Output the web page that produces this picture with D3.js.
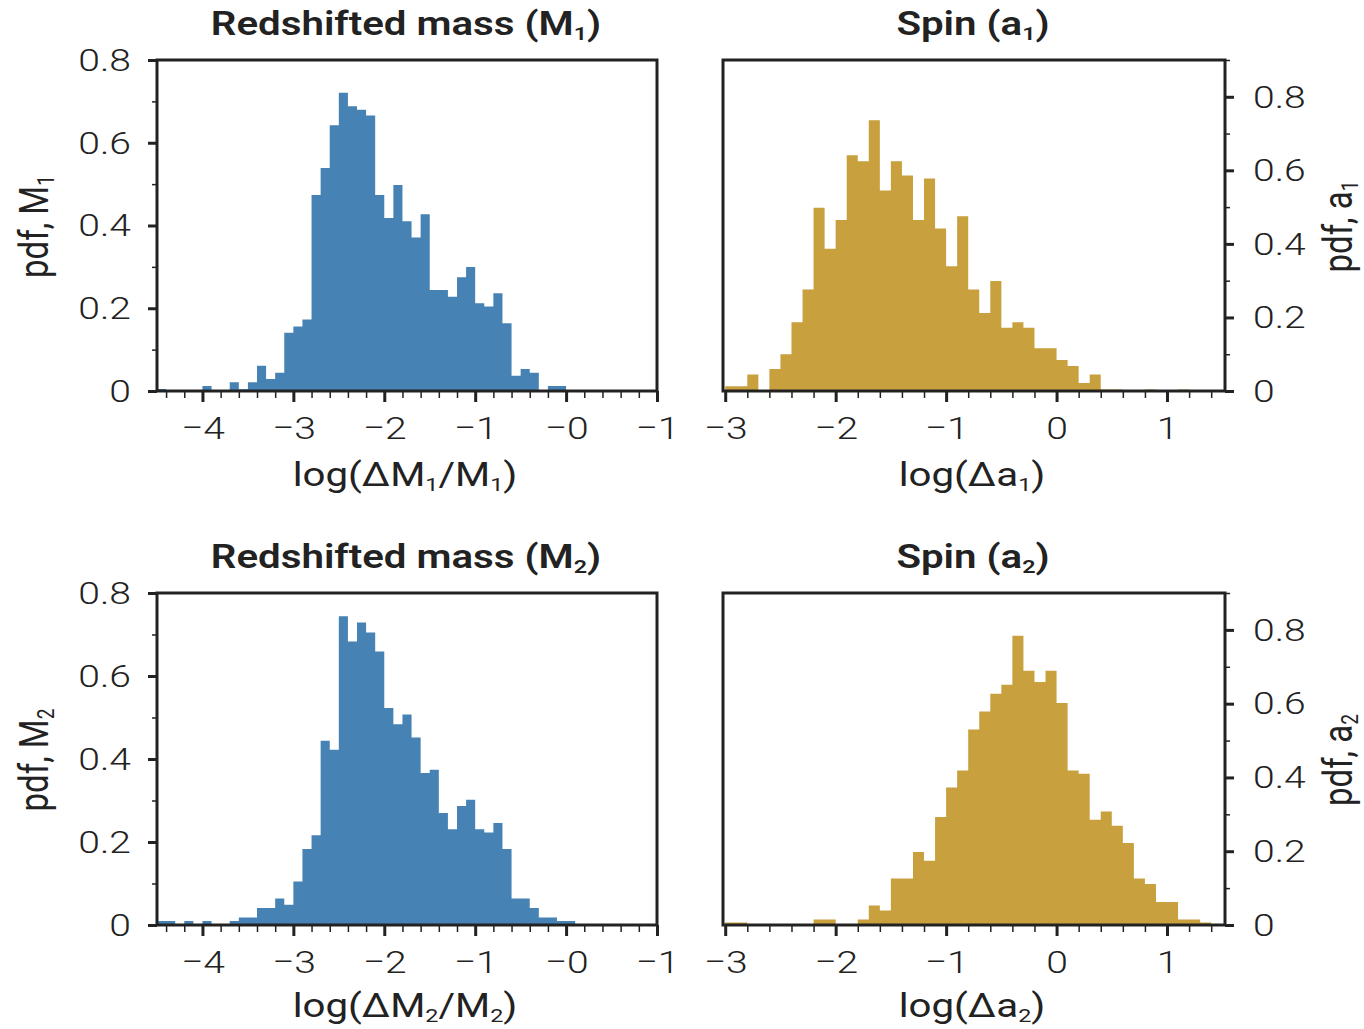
<!DOCTYPE html>
<html>
<head>
<meta charset="utf-8">
<script src="https://cdn.jsdelivr.net/npm/d3@7"></script>
<style>
  body { margin: 0; background: #fff; }
  text { font-family: Roboto, "Noto Sans", sans-serif; fill: #222; }
</style>
</head>
<body>
<div id="chart"></div>
<script>
// histogram heights, bins of 0.1 in log space
const BIN_W = 0.1;
const massBinStart = -4.5;
const spinBinStart = -3.0;

const m1Pdf = [0.005, 0, 0, 0, 0, 0.012, 0, 0, 0.021, 0.004,
  0.021, 0.061, 0.029, 0.044, 0.141, 0.156, 0.173, 0.474, 0.539, 0.642,
  0.721, 0.688, 0.680, 0.666, 0.474, 0.418, 0.498, 0.410, 0.371, 0.427,
  0.244, 0.244, 0.228, 0.275, 0.300, 0.212, 0.204, 0.236, 0.164, 0.037,
  0.053, 0.044, 0, 0.012, 0.012];

const m2Pdf = [0.0097, 0.0097, 0, 0.0097, 0, 0.0097, 0, 0, 0.0097, 0.018,
  0.018, 0.041, 0.041, 0.064, 0.049, 0.105, 0.183, 0.216, 0.444, 0.422,
  0.744, 0.683, 0.729, 0.705, 0.659, 0.523, 0.484, 0.507, 0.452, 0.366,
  0.374, 0.270, 0.231, 0.287, 0.302, 0.231, 0.223, 0.246, 0.183, 0.064,
  0.064, 0.041, 0.018, 0.018, 0.0097, 0.0097];

const a1Pdf = [0.013, 0.013, 0.045, 0, 0.060, 0.100, 0.187, 0.276, 0.498, 0.387,
  0.465, 0.641, 0.625, 0.736, 0.545, 0.625, 0.586, 0.465, 0.578, 0.442,
  0.339, 0.475, 0.276, 0.212, 0.299, 0.172, 0.187, 0.172, 0.116, 0.116,
  0.084, 0.068, 0.022, 0.045, 0.004, 0.004, 0, 0, 0.004, 0,
  0, 0.004];

const a2Pdf = [0.007, 0.007, 0, 0, 0, 0, 0, 0, 0.015, 0.015,
  0, 0, 0.015, 0.053, 0.039, 0.126, 0.126, 0.198, 0.174, 0.293,
  0.373, 0.419, 0.530, 0.579, 0.627, 0.651, 0.784, 0.689, 0.659, 0.689,
  0.602, 0.419, 0.410, 0.285, 0.308, 0.269, 0.222, 0.126, 0.111, 0.0625,
  0.0625, 0.015, 0.015, 0.007];

const massTicks = [-4, -3, -2, -1, 0, 1];
const massTickLabels = ["\u22124", "\u22123", "\u22122", "\u22121", "\u22120", "\u22121"];
const massMinor = d3.range(-4.4, 1.0, 0.2).filter(v => Math.abs(v - Math.round(v)) > 0.05);
const spinTicks = [-3, -2, -1, 0, 1];
const spinTickLabels = ["\u22123", "\u22122", "\u22121", "0", "1"];
const spinMinor = d3.range(-2.8, 1.5, 0.2).filter(v => Math.abs(v - Math.round(v)) > 0.05);

const pdfTicks = [0, 0.2, 0.4, 0.6, 0.8];
const pdfTickLabels = ["0", "0.2", "0.4", "0.6", "0.8"];

const BLUE = "#4682b4";
const GOLD = "#c8a03d";
const INK = "#222";
const SX = 1.22;   // text in the figure is stretched horizontally
const TICK_FS = 32;

const svg = d3.select("#chart").append("svg")
  .attr("width", 1364)
  .attr("height", 1029);

// text with subscripts: parts = [[string, isSub], ...]
function rich(sel, parts, size) {
  let prevSub = false;
  parts.forEach(([s, sub]) => {
    const t = sel.append("tspan").text(s);
    if (sub) {
      t.attr("font-size", size * 0.58).attr("dy", size * 0.16);
    } else if (prevSub) {
      t.attr("dy", -size * 0.16);
    }
    prevSub = sub;
  });
  return sel;
}

function stretchedText(x, y, rotate) {
  return svg.append("text")
    .attr("transform", `translate(${x},${y}) scale(${SX},1)` + (rotate ? " rotate(-90)" : ""))
    .attr("text-anchor", "middle");
}

const panels = [
  {left: 157, right: 657, top: 60, bottom: 391, xDomain: [-4.5, 1], yDomain: [0, 0.8],
   binStart: massBinStart, values: m1Pdf, color: BLUE, side: "left",
   ticks: massTicks, tickLabels: massTickLabels, minor: massMinor,
   title: [["Redshifted mass (M", false], ["1", true], [")", false]],
   xLabel: [["log(\u0394M", false], ["1", true], ["/M", false], ["1", true], [")", false]],
   yLabel: [["pdf, M", false], ["1", true]]},
  {left: 723, right: 1225, top: 60, bottom: 391, xDomain: [-3.02, 1.525], yDomain: [0, 0.9],
   binStart: spinBinStart, values: a1Pdf, color: GOLD, side: "right",
   ticks: spinTicks, tickLabels: spinTickLabels, minor: spinMinor,
   title: [["Spin (a", false], ["1", true], [")", false]],
   xLabel: [["log(\u0394a", false], ["1", true], [")", false]],
   yLabel: [["pdf, a", false], ["1", true]]},
  {left: 157, right: 657, top: 593, bottom: 925, xDomain: [-4.5, 1], yDomain: [0, 0.8],
   binStart: massBinStart, values: m2Pdf, color: BLUE, side: "left",
   ticks: massTicks, tickLabels: massTickLabels, minor: massMinor,
   title: [["Redshifted mass (M", false], ["2", true], [")", false]],
   xLabel: [["log(\u0394M", false], ["2", true], ["/M", false], ["2", true], [")", false]],
   yLabel: [["pdf, M", false], ["2", true]]},
  {left: 723, right: 1225, top: 593, bottom: 925, xDomain: [-3.02, 1.525], yDomain: [0, 0.9],
   binStart: spinBinStart, values: a2Pdf, color: GOLD, side: "right",
   ticks: spinTicks, tickLabels: spinTickLabels, minor: spinMinor,
   title: [["Spin (a", false], ["2", true], [")", false]],
   xLabel: [["log(\u0394a", false], ["2", true], [")", false]],
   yLabel: [["pdf, a", false], ["2", true]]}
];

panels.forEach((p, k) => {
  const x = d3.scaleLinear().domain(p.xDomain).range([p.left, p.right]);
  const y = d3.scaleLinear().domain(p.yDomain).range([p.bottom, p.top]);

  // step histogram
  const pts = p.values.map((v, i) => [p.binStart + i * BIN_W, v]);
  pts.push([p.binStart + p.values.length * BIN_W, p.values[p.values.length - 1]]);
  const area = d3.area()
    .curve(d3.curveStepAfter)
    .x(d => x(d[0]))
    .y0(y(0))
    .y1(d => y(d[1]));
  svg.append("path").datum(pts)
    .attr("fill", p.color)
    .attr("d", area);

  // x axis, minor then major
  const xMinor = svg.append("g")
    .attr("transform", `translate(0,${p.bottom})`)
    .call(d3.axisBottom(x).tickValues(p.minor).tickSize(7).tickFormat(""));
  xMinor.select(".domain").remove();
  xMinor.selectAll("line").attr("stroke", INK).attr("stroke-width", 1.5);

  const xAxis = svg.append("g")
    .attr("transform", `translate(0,${p.bottom})`)
    .call(d3.axisBottom(x).tickValues(p.ticks).tickSize(11)
      .tickFormat((d, i) => p.tickLabels[i]));
  xAxis.select(".domain").remove();
  xAxis.selectAll("line").attr("stroke", INK).attr("stroke-width", 3);
  xAxis.selectAll("text")
    .attr("y", 25)
    .attr("font-size", TICK_FS)
    .attr("font-weight", 300)
    .attr("transform", `scale(${SX},1)`);

  // y axis on the outer side
  const yMinorVals = d3.range(0.1, p.yDomain[1] + 0.01, 0.2);
  const yAxisFn = p.side === "left" ? d3.axisLeft : d3.axisRight;
  const yEdge = p.side === "left" ? p.left : p.right;

  const yMinor = svg.append("g")
    .attr("transform", `translate(${yEdge},0)`)
    .call(yAxisFn(y).tickValues(yMinorVals).tickSize(5).tickFormat(""));
  yMinor.select(".domain").remove();
  yMinor.selectAll("line").attr("stroke", INK).attr("stroke-width", 1.5);

  const yAxis = svg.append("g")
    .attr("transform", `translate(${yEdge},0)`)
    .call(yAxisFn(y).tickValues(pdfTicks).tickSize(9)
      .tickFormat((d, i) => pdfTickLabels[i]));
  yAxis.select(".domain").remove();
  yAxis.selectAll("line").attr("stroke", INK).attr("stroke-width", 3);
  yAxis.selectAll("text")
    .attr("x", (p.side === "left" ? -26 : 28) / SX)
    .attr("font-size", TICK_FS)
    .attr("font-weight", 300)
    .attr("transform", `scale(${SX},1)`);

  // frame
  svg.append("rect")
    .attr("x", p.left).attr("y", p.top)
    .attr("width", p.right - p.left).attr("height", p.bottom - p.top)
    .attr("fill", "none")
    .attr("stroke", INK)
    .attr("stroke-width", 3);

  // labels
  const cx = (p.left + p.right) / 2;
  rich(stretchedText(cx - 1, p.top - 25, false)
    .attr("font-size", 33).attr("font-weight", 600), p.title, 33);

  rich(stretchedText(cx - 2, p.bottom + (k < 2 ? 95 : 92), false)
    .attr("font-size", 33).attr("font-weight", 400), p.xLabel, 33);

  const ly = (p.top + p.bottom) / 2 + 1;
  const lx = p.side === "left" ? 48 : 1352;
  rich(stretchedText(lx, ly, true)
    .attr("font-size", 33).attr("font-weight", 400), p.yLabel, 33);
});
</script>
</body>
</html>
